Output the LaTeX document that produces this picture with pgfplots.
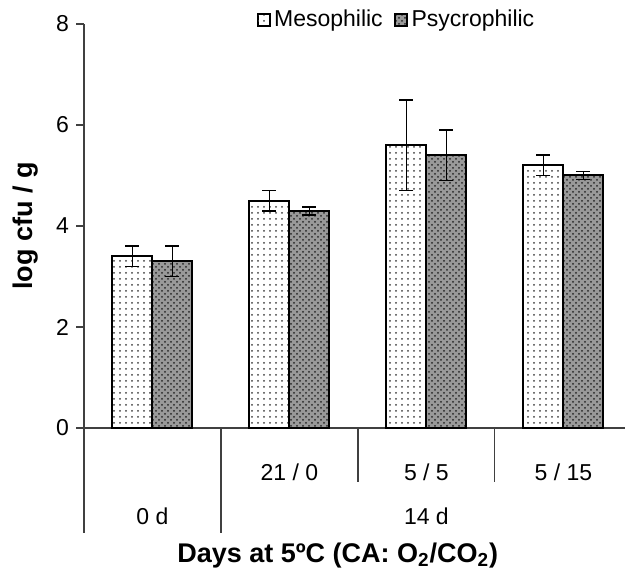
\documentclass[border=0pt]{standalone}
\usepackage{fontspec}
\setmainfont{Liberation Sans}
\usepackage{pgfplots}
\pgfplotsset{compat=1.18}
\usetikzlibrary{patterns}
\begin{document}
\begin{tikzpicture}
\begin{axis}[
  scale only axis, width=270.5pt, height=202pt,
  xmin=-0.5, xmax=3.45, ymin=0, ymax=8,
  axis x line*=bottom, axis y line*=left,
  axis line style={black!75, line width=0.6pt},
  ybar=0pt, bar width=20pt,
  xtick={0,1,2,3}, xticklabels={,21 / 0,5 / 5,5 / 15},
  x tick style={draw=none},
  xticklabel style={anchor=center, yshift=-18pt},
  ytick={0,2,4,6,8},
  y tick style={black!75, line width=0.6pt},
  tick align=outside, major tick length=4pt,
  tick label style={font=\fontsize{11.5}{13.5}\selectfont},
  /pgf/number format/assume math mode=true,
  clip=false,
  ylabel={log cfu / g},
  ylabel style={font=\fontsize{13.5}{16}\selectfont\bfseries, at={(rel axis cs:-0.108,0.5)}, anchor=center},
  xlabel={Days at 5ºC (CA: O\textsubscript{2}/CO\textsubscript{2})},
  xlabel style={font=\fontsize{13.5}{16}\selectfont\bfseries, at={(rel axis cs:0.469,-0.316)}, anchor=center},
  legend image code/.code={\draw[#1, line width=0.4pt] (0pt,-3pt) rectangle (6pt,3pt);},
  legend style={at={(rel axis cs:0.58,1.01)}, anchor=center, draw=none, fill=none,
    legend columns=2, font=\fontsize{11.5}{13.5}\selectfont,
    /tikz/every even column/.append style={column sep=4pt}},
]
\addplot[draw=black, line width=1pt, preaction={fill=white}, pattern=dots, pattern color=black!75,
  error bars/.cd, y dir=both, y explicit,
  error bar style={black, line width=0.85pt},
  error mark options={rotate=90, mark size=3.5pt, line width=0.85pt, black}]
  coordinates {(0,3.4) +- (0,0.2) (1,4.5) +- (0,0.2) (2,5.6) +- (0,0.9) (3,5.2) +- (0,0.2)};
\addlegendentry{Mesophilic}
\addplot[draw=black, line width=1pt, preaction={fill=gray!80}, pattern=crosshatch dots, pattern color=black!85,
  error bars/.cd, y dir=both, y explicit,
  error bar style={black, line width=0.85pt},
  error mark options={rotate=90, mark size=3.5pt, line width=0.85pt, black}]
  coordinates {(0,3.3) +- (0,0.3) (1,4.3) +- (0,0.08) (2,5.4) +- (0,0.5) (3,5.0) +- (0,0.08)};
\addlegendentry{Psycrophilic}
\draw[black!75, line width=0.6pt] (axis cs:-0.5,0) -- ([yshift=-52.5pt]axis cs:-0.5,0);
\draw[black!75, line width=0.6pt] (axis cs:0.5,0) -- ([yshift=-52.5pt]axis cs:0.5,0);
\draw[black!75, line width=0.6pt] (axis cs:1.5,0) -- ([yshift=-27pt]axis cs:1.5,0);
\draw[black!75, line width=0.6pt] (axis cs:2.5,0) -- ([yshift=-27pt]axis cs:2.5,0);
\node[font=\fontsize{11.5}{13.5}\selectfont, yshift=-44pt] at (axis cs:0,0) {0 d};
\node[font=\fontsize{11.5}{13.5}\selectfont, yshift=-44pt] at (axis cs:2,0) {14 d};
\coordinate (O) at (rel axis cs:0,0);
\coordinate (TR) at (rel axis cs:1,1);
\end{axis}
\pgfresetboundingbox
\path[use as bounding box] ([xshift=-42pt,yshift=-72.5pt]O) rectangle ([yshift=12pt]TR);
\end{tikzpicture}
\end{document}
